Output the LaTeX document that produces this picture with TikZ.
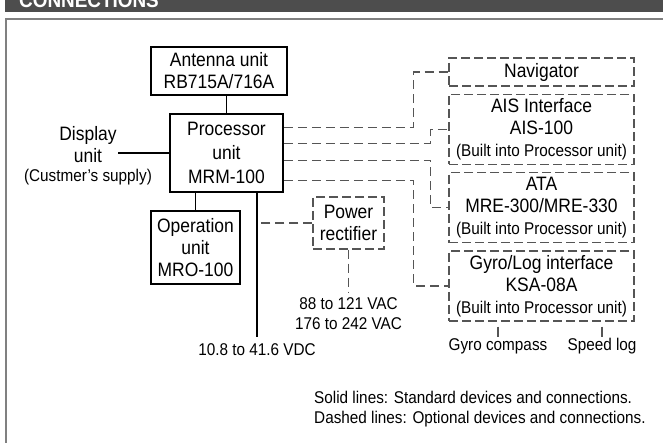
\documentclass[tikz,border=0pt]{standalone}
\usepackage{fontspec}
\setmainfont[FakeStretch=0.9]{Liberation Sans}
\usetikzlibrary{positioning}
\definecolor{Frame}{HTML}{808080}
\definecolor{Bar}{HTML}{4D4D4D}
\definecolor{Dash}{HTML}{555555}
\newcommand\bigtxt{\fontsize{19.4}{22}\selectfont}
\newcommand\smalltxt{\fontsize{17}{20}\selectfont}
\tikzset{
 unit/.style={draw=black,line width=1.6pt,align=center,font=\bigtxt,inner sep=0pt},
 optunit/.style={unit,draw=Dash,line width=1.3pt,dash pattern=on 9pt off 4pt},
 wire/.style={line width=1.8pt},
 optwire/.style={draw=Dash,line width=1.3pt,dash pattern=on 9pt off 5pt},
 feed/.style={optwire,dash pattern=on 11pt off 5pt,dash phase=11pt},
 lbl/.style={font=\smalltxt,align=center,inner sep=1pt}
}

\begin{document}
\begin{tikzpicture}[x=1pt,y=-1pt]
\useasboundingbox (0,0) rectangle (663,443);
% heading bar and frame
\begin{scope}
\clip (0,0) rectangle (663,12);
\fill[Bar] (5,0) rectangle (663,12);
\node[anchor=base west,text=white,font=\fontsize{21}{24}\selectfont\bfseries,inner sep=0pt] (title) at (19,8) {CONNECTIONS};
\end{scope}
\draw[Frame,line width=2pt] (6,460) -- (6,19) -- (680,19);

% standard units
\node[unit,minimum width=136pt,minimum height=48pt] (antenna) at (219,71) {Antenna unit\\RB715A/716A};
\node[unit,minimum width=113pt,minimum height=78pt] (proc) at (226.5,153) {Processor\\[2pt]unit\\[2pt]MRM-100};
\node[unit,minimum width=89pt,minimum height=73pt] (oper) at (195.5,247.5) {Operation\\unit\\MRO-100};
\node[lbl,font=\bigtxt] (disp) at (88,145) {Display\\unit};
\node[lbl] (supply) at (88,177) {(Custmer's supply)};

% optional units
\node[optunit,minimum width=71pt,minimum height=52pt] (power) at (348.5,223) {Power\\rectifier};
\node[optunit,minimum width=185pt,minimum height=28pt] (nav) at (541.5,72) {Navigator};
\node[optunit,minimum width=185pt,minimum height=70pt,below=7pt of nav] (ais) {AIS Interface\\AIS-100\\{\smalltxt(Built into Processor unit)}};
\node[optunit,minimum width=185pt,minimum height=70pt,below=7pt of ais] (ata) {ATA\\MRE-300/MRE-330\\{\smalltxt(Built into Processor unit)}};
\node[optunit,minimum width=185pt,minimum height=70pt,below=7pt of ata] (gyro) {Gyro/Log interface\\KSA-08A\\{\smalltxt(Built into Processor unit)}};

% supplies and sensors
\coordinate (dc) at (257,337);
\node[lbl,below=5pt of dc] (vdc) {10.8 to 41.6 VDC};
\coordinate (ac) at (power.south |- 0,292);
\node[lbl,below=4pt of ac] (acin) {88 to 121 VAC\\176 to 242 VAC};
\node[lbl] (gcomp) at (498,346) {Gyro compass};
\node[lbl] (slog) at (602,346) {Speed log};

% connections
\draw[wire] (proc.north) -- (proc.north |- antenna.south);
\draw[wire] (oper.north) -- (oper.north |- proc.south);
\draw[wire] (proc.west) -- (proc.west -| disp.east);
\draw[wire] (proc.south -| dc) -- (dc);
\draw[optwire] (power.west) -- (power.west -| dc);
\draw[optwire] (power.south) -- (ac);
\foreach \dy/\dx/\b in {14/130/nav,30/147/ais,47/147/ata,67/130/gyro}
  \draw[optwire] ([yshift=-\dy pt]proc.north east) -- ++(\dx,0) |- (\b.west);
\draw[feed] (gyro.south -| gcomp) -- (gcomp.north);
\draw[feed] (gyro.south -| slog) -- (slog.north);

% legend
\node[lbl,align=left,anchor=west] (legend) at (313,409) {Solid lines: Standard devices and connections.\\Dashed lines: Optional devices and connections.};
\end{tikzpicture}
\end{document}
